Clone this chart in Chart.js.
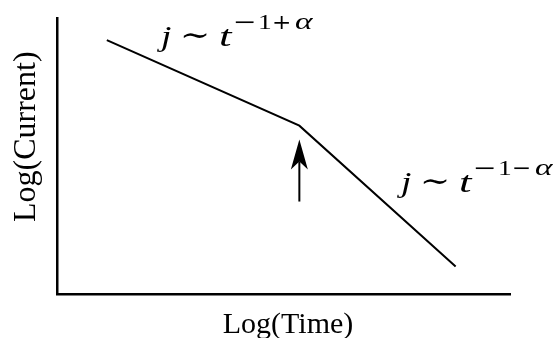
<!DOCTYPE html>
<html>
<head>
<meta charset="utf-8">
<script src="https://cdn.jsdelivr.net/npm/chart.js@4/dist/chart.umd.min.js"></script>
<style>
  html, body { margin: 0; padding: 0; background: #fff; }
  #wrap { width: 559px; height: 338px; }
</style>
</head>
<body>
<div id="wrap"><canvas id="chart"></canvas></div>
<script>
// Schematic: log(current) against log(time), two power-law regimes
const logTime = [1.1, 5.35, 8.8];
const logCurrent = [9.2, 6.1, 1.0];

// Axis extents (arbitrary log units)
const timeRange = [0, 10];
const currentRange = [0, 10];

// Arrow marking the crossover time
const crossoverTime = 5.35;
const arrowTail = 3.35;
const arrowTip = 5.6;

// Exponent sign in each regime: j ~ t^(-1+a) early, j ~ t^(-1-a) late
const regimeSigns = ['+', '\u2212'];

const SERIF = '"Liberation Serif", "Times New Roman", serif';
const MATH = '"Liberation Serif", "DejaVu Serif", serif';
const MATH_OP = '"DejaVu Serif", serif';

// glyph runs of one power-law label: text, font, x offset, rise, horizontal stretch
function labelGlyphs(sign) {
  return [
    { t: 'j',      f: 'italic 30px ' + SERIF,  dx: 3,   dy: 0,   sx: 1.25 },
    { t: '\u223C', f: '30px ' + MATH,          dx: 22,  dy: -1,  sx: 1.2 },
    { t: 't',      f: 'italic 30px ' + SERIF,  dx: 61,  dy: 0,   sx: 1.5 },
    { t: '\u2212', f: '21px ' + MATH_OP,       dx: 75,  dy: -17, sx: 1.35 },
    { t: '1',      f: '22px ' + SERIF,         dx: 100, dy: -17, sx: 1.25 },
    { t: sign,     f: '21px ' + MATH_OP,       dx: 114, dy: -17, sx: 1.1 },
    { t: '\u03B1', f: 'italic 23px ' + SERIF,  dx: 137, dy: -17, sx: 1.45 }
  ];
}

const annotations = {
  id: 'annotations',
  afterDatasetsDraw(chart, args, opts) {
    const { ctx, chartArea, scales: { x, y } } = chart;
    ctx.save();
    ctx.fillStyle = '#000';
    ctx.strokeStyle = '#000';

    // arrow
    const ax = x.getPixelForValue(crossoverTime);
    const yTail = y.getPixelForValue(arrowTail);
    const yTip = y.getPixelForValue(arrowTip);
    const headLen = 30, headHalf = 8.5, notch = 8;
    ctx.lineWidth = 2;
    ctx.beginPath();
    ctx.moveTo(ax, yTail);
    ctx.lineTo(ax, yTip + headLen - notch);
    ctx.stroke();
    ctx.beginPath();
    ctx.moveTo(ax, yTip);
    ctx.lineTo(ax + headHalf, yTip + headLen);
    ctx.lineTo(ax, yTip + headLen - notch);
    ctx.lineTo(ax - headHalf, yTip + headLen);
    ctx.closePath();
    ctx.fill();

    // power-law labels
    ctx.textBaseline = 'alphabetic';
    ctx.textAlign = 'left';
    opts.labels.forEach((lab, i) => {
      const x0 = x.getPixelForValue(lab.x);
      const base = y.getPixelForValue(lab.y);
      labelGlyphs(regimeSigns[i]).forEach(g => {
        ctx.save();
        ctx.font = g.f;
        ctx.translate(x0 + g.dx, base + g.dy);
        ctx.scale(g.sx, 1);
        ctx.fillText(g.t, 0, 0);
        ctx.restore();
      });
    });

    // axis titles
    ctx.textAlign = 'center';
    ctx.font = '30px ' + SERIF;
    ctx.fillText(opts.xTitle, chartArea.left + 0.51 * chartArea.width, chartArea.bottom + 39);
    ctx.save();
    ctx.translate(chartArea.left - 22, chartArea.top + 0.43 * chartArea.height);
    ctx.rotate(-Math.PI / 2);
    ctx.font = '32px ' + SERIF;
    ctx.fillText(opts.yTitle, 0, 0);
    ctx.restore();

    ctx.restore();
  }
};

new Chart(document.getElementById('chart'), {
  type: 'scatter',
  data: {
    datasets: [{
      data: logTime.map((t, i) => ({ x: t, y: logCurrent[i] })),
      showLine: true,
      borderColor: '#000',
      borderWidth: 2,
      pointRadius: 0,
      tension: 0
    }]
  },
  options: {
    responsive: true,
    maintainAspectRatio: false,
    animation: false,
    events: [],
    layout: { padding: { top: 18, right: 49, left: 0, bottom: 0 } },
    plugins: {
      legend: { display: false },
      tooltip: { enabled: false },
      annotations: {
        xTitle: 'Log(Time)',
        yTitle: 'Log(Current)',
        labels: [
          { x: 2.23, y: 9.0 },
          { x: 7.53, y: 3.7 }
        ]
      }
    },
    scales: {
      x: {
        type: 'linear', min: timeRange[0], max: timeRange[1],
        grid: { display: false, drawTicks: false },
        ticks: { display: false },
        border: { display: true, color: '#000', width: 2.5 },
        afterFit(s) { s.height = 44; }
      },
      y: {
        type: 'linear', min: currentRange[0], max: currentRange[1],
        grid: { display: false, drawTicks: false },
        ticks: { display: false },
        border: { display: true, color: '#000', width: 2.5 },
        afterFit(s) { s.width = 57; }
      }
    }
  },
  plugins: [annotations]
});
</script>
</body>
</html>
